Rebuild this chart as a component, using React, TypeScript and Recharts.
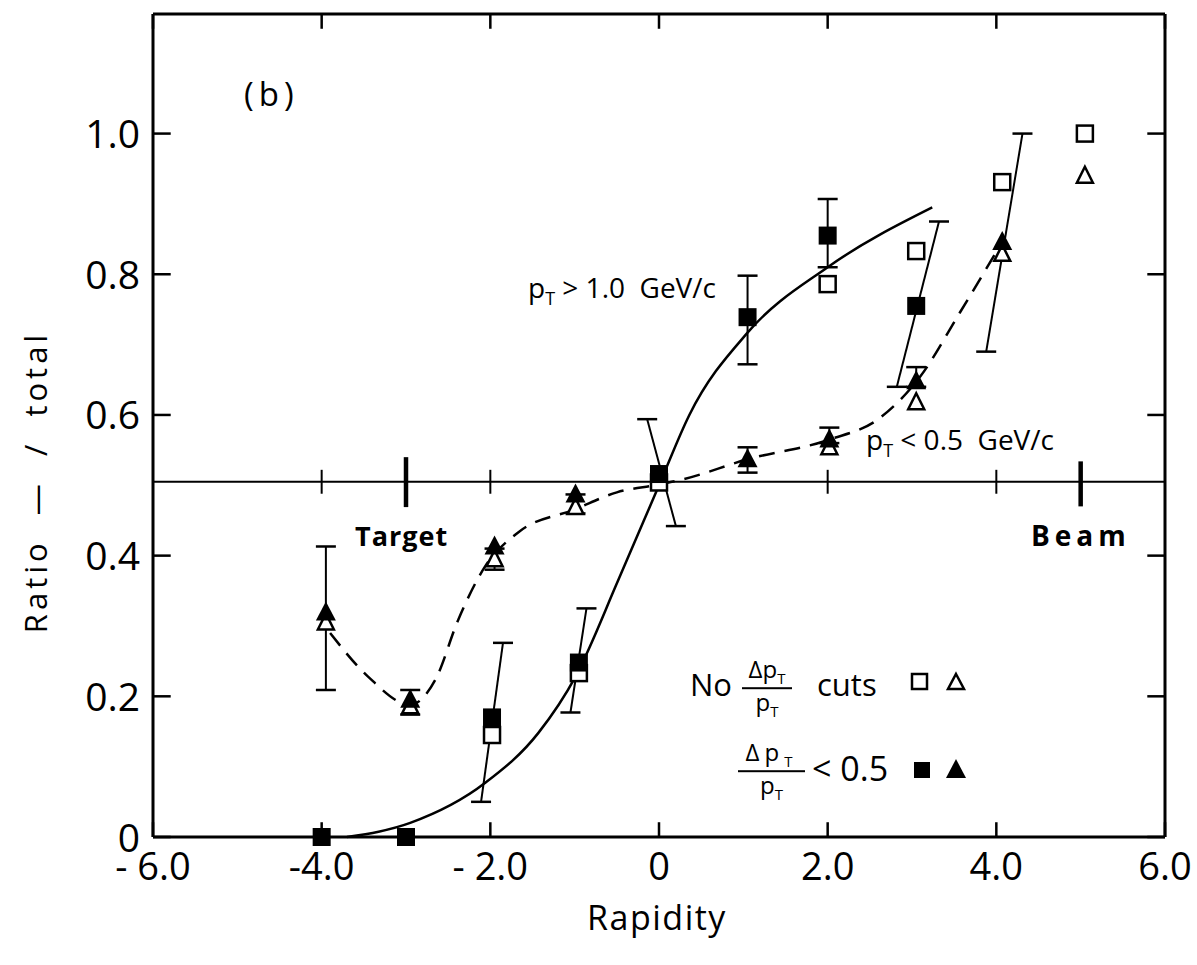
import React from 'react';
import { ComposedChart, Line, Scatter, XAxis, YAxis, ReferenceLine } from 'recharts';

// axis ticks and labels
const xDomain = [-6, 6];
const yDomain = [0, 1.17];
const xTicks = [-6, -4, -2, 0, 2, 4, 6];
const xTickLabels = ['- 6.0', '-4.0', '- 2.0', '0', '2.0', '4.0', '6.0'];
const yTicks = [0, 0.2, 0.4, 0.6, 0.8, 1.0];
const yTickLabels = ['0', '0.2', '0.4', '0.6', '0.8', '1.0'];

// reference level at ratio 0.5 with its small ticks and the target / beam marks
const midLevel = 0.505;
const midTicks = [-4, -2, 2, 4];
const targetMark = { x: -3, lo: 0.469, hi: 0.54 };
const beamMark = { x: 5, lo: 0.47, hi: 0.534 };

// no dp/p cuts (open symbols)
const openSquares = [
  { x: -1.98, y: 0.145 }, { x: -0.95, y: 0.233 }, { x: 0.0, y: 0.504 }, { x: 2.0, y: 0.786 },
  { x: 3.05, y: 0.833 }, { x: 4.07, y: 0.931 }, { x: 5.05, y: 1.0 },
];
const openTriangles = [
  { x: -3.95, y: 0.305 }, { x: -2.95, y: 0.186 }, { x: -1.95, y: 0.395 }, { x: -0.99, y: 0.469 },
  { x: 2.02, y: 0.554 }, { x: 3.05, y: 0.618 }, { x: 4.07, y: 0.829 }, { x: 5.05, y: 0.94 },
];

// dp/p < 0.5 (filled symbols)
const filledSquares = [
  { x: -4.0, y: 0.0 }, { x: -3.0, y: 0.0 }, { x: -1.98, y: 0.17 }, { x: -0.95, y: 0.248 },
  { x: 0.0, y: 0.516 }, { x: 1.05, y: 0.739 }, { x: 2.0, y: 0.855 }, { x: 3.05, y: 0.755 },
];
const filledTriangles = [
  { x: -3.95, y: 0.319 }, { x: -2.95, y: 0.195 }, { x: -1.95, y: 0.413 }, { x: -0.99, y: 0.487 },
  { x: 1.05, y: 0.537 }, { x: 2.02, y: 0.565 }, { x: 3.05, y: 0.648 }, { x: 4.07, y: 0.846 },
];

// error bars: low end -> high end (some are drawn slanted)
const errorBars = [
  { x1: -3.95, y1: 0.209, x2: -3.95, y2: 0.413 },
  { x1: -2.95, y1: 0.174, x2: -2.95, y2: 0.209 },
  { x1: -1.95, y1: 0.38, x2: -1.95, y2: 0.41 },
  { x1: -0.99, y1: 0.46, x2: -0.99, y2: 0.487 },
  { x1: 1.05, y1: 0.518, x2: 1.05, y2: 0.554 },
  { x1: 2.02, y1: 0.56, x2: 2.02, y2: 0.582 },
  { x1: 3.05, y1: 0.64, x2: 3.05, y2: 0.668 },
  { x1: -2.11, y1: 0.05, x2: -1.85, y2: 0.276 },
  { x1: -1.05, y1: 0.177, x2: -0.86, y2: 0.325 },
  { x1: 0.2, y1: 0.442, x2: -0.14, y2: 0.594 },
  { x1: 1.05, y1: 0.672, x2: 1.05, y2: 0.798 },
  { x1: 2.0, y1: 0.81, x2: 2.0, y2: 0.907 },
  { x1: 2.82, y1: 0.64, x2: 3.32, y2: 0.875 },
  { x1: 3.88, y1: 0.69, x2: 4.31, y2: 1.0 },
];

// hand-drawn curves
const solidCurve = [
  { x: -3.7, y: 0.0 }, { x: -2.95, y: 0.02 }, { x: -2.06, y: 0.077 }, { x: -1.43, y: 0.148 },
  { x: -0.99, y: 0.228 }, { x: -0.48, y: 0.366 }, { x: 0.0, y: 0.5 }, { x: 0.36, y: 0.6 },
  { x: 1.05, y: 0.717 }, { x: 2.0, y: 0.81 }, { x: 3.24, y: 0.895 },
];
const dashedCurve = [
  { x: -3.9, y: 0.29 }, { x: -3.45, y: 0.228 }, { x: -2.95, y: 0.188 }, { x: -2.65, y: 0.224 },
  { x: -2.38, y: 0.309 }, { x: -2.06, y: 0.385 }, { x: -1.67, y: 0.433 }, { x: -0.99, y: 0.466 },
  { x: -0.5, y: 0.49 }, { x: 0.0, y: 0.501 }, { x: 0.27, y: 0.508 }, { x: 1.05, y: 0.537 },
  { x: 2.02, y: 0.565 }, { x: 2.6, y: 0.594 }, { x: 3.1, y: 0.655 }, { x: 3.57, y: 0.746 },
  { x: 4.07, y: 0.846 },
];

const FONT = '"Open Sans", "DejaVu Sans", sans-serif';
// inward tick lengths in data units (about 18px across, 15px up/down)
const TICK_DX = 0.21;
const TICK_DY = 0.021;

const OpenSquare = (p: any) => (
  <rect x={p.cx - 8} y={p.cy - 8} width={16} height={16} fill="#fff" stroke="#000" strokeWidth={2.5} />
);
const FilledSquare = (p: any) => (
  <rect x={p.cx - 9} y={p.cy - 9} width={18} height={18} fill="#000" />
);
const OpenTriangle = (p: any) => (
  <path d={`M${p.cx},${p.cy - 9} L${p.cx + 8},${p.cy + 7} L${p.cx - 8},${p.cy + 7} Z`} fill="#fff" stroke="#000" strokeWidth={2.5} />
);
const FilledTriangle = (p: any) => (
  <path d={`M${p.cx},${p.cy - 11} L${p.cx + 10},${p.cy + 8} L${p.cx - 10},${p.cy + 8} Z`} fill="#000" />
);
const Cap = (p: any) => (
  <line x1={p.cx - 10} x2={p.cx + 10} y1={p.cy} y2={p.cy} stroke="#000" strokeWidth={2.5} />
);

const LeftTick = (p: any) => (
  <text x={p.x} y={p.y - 1} textAnchor="end" dominantBaseline="central" fontSize={39} fontFamily={FONT} fill="#000">
    {yTickLabels[yTicks.indexOf(p.payload.value)]}
  </text>
);
const BottomTick = (p: any) => (
  <text x={p.x} y={p.y + 28} textAnchor="middle" dominantBaseline="central" fontSize={38} fontFamily={FONT} fill="#000">
    {xTickLabels[xTicks.indexOf(p.payload.value)]}
  </text>
);

const pos = (left: number, top: number, size: number, extra: any = {}) => ({
  position: 'absolute' as const, left, top, fontSize: size, fontFamily: FONT, color: '#000',
  whiteSpace: 'nowrap' as const, lineHeight: 1, transform: 'translateY(-50%)', ...extra,
});

const Frac = ({ left, top, width, gap }: { left: number; top: number; width: number; gap: number }) => (
  <div style={{ ...pos(left, top, 24), width, display: 'flex', flexDirection: 'column', alignItems: 'center' }}>
    <span style={{ letterSpacing: gap }}>Δp<sub style={{ fontSize: 15 }}>T</sub></span>
    <span style={{ width: '100%', borderTop: '2px solid #000', margin: '1px 0 1px' }} />
    <span>p<sub style={{ fontSize: 15 }}>T</sub></span>
  </div>
);

const Sym = ({ kind, left, top }: { kind: string; left: number; top: number }) => (
  <svg width={22} height={22} style={{ position: 'absolute', left, top: top - 11 }}>
    {kind === 'os' && <rect x={3} y={3} width={15} height={15} fill="#fff" stroke="#000" strokeWidth={2.5} />}
    {kind === 'ot' && <path d="M11,3 L19,18 L3,18 Z" fill="#fff" stroke="#000" strokeWidth={2.5} />}
    {kind === 'fs' && <rect x={2} y={3} width={16} height={16} fill="#000" />}
    {kind === 'ft' && <path d="M11,1 L21,20 L1,20 Z" fill="#000" />}
  </svg>
);

const seg = (x1: number, y1: number, x2: number, y2: number) => [{ x: x1, y: y1 }, { x: x2, y: y2 }];

export default function App() {
  return (
    <div style={{ position: 'absolute', left: 0, top: 0, width: 1197, height: 965, background: '#fff' }}>
      <ComposedChart width={1197} height={965} margin={{ top: 14, right: 32, bottom: 78, left: 0 }}>
        <XAxis
          type="number" dataKey="x" domain={xDomain} ticks={xTicks} height={50}
          tick={BottomTick} tickLine={false} tickSize={0} tickMargin={0}
          axisLine={{ stroke: '#000', strokeWidth: 3 }}
        />
        <YAxis
          type="number" dataKey="y" domain={yDomain} ticks={yTicks} width={153}
          tick={LeftTick} tickLine={false} tickSize={0} tickMargin={13}
          axisLine={{ stroke: '#000', strokeWidth: 3 }}
        />

        {/* top and right frame */}
        <ReferenceLine y={yDomain[1]} stroke="#000" strokeWidth={3} />
        <ReferenceLine x={xDomain[1]} stroke="#000" strokeWidth={3} />

        {/* inward ticks on all four sides */}
        {xTicks.map((t) => (
          <ReferenceLine key={`b${t}`} segment={seg(t, yDomain[0], t, yDomain[0] + TICK_DY)} stroke="#000" strokeWidth={2.5} />
        ))}
        {xTicks.map((t) => (
          <ReferenceLine key={`t${t}`} segment={seg(t, yDomain[1], t, yDomain[1] - TICK_DY)} stroke="#000" strokeWidth={2.5} />
        ))}
        {yTicks.map((t) => (
          <ReferenceLine key={`l${t}`} segment={seg(xDomain[0], t, xDomain[0] + TICK_DX, t)} stroke="#000" strokeWidth={2.5} />
        ))}
        {yTicks.map((t) => (
          <ReferenceLine key={`r${t}`} segment={seg(xDomain[1], t, xDomain[1] - TICK_DX, t)} stroke="#000" strokeWidth={2.5} />
        ))}

        <ReferenceLine y={midLevel} stroke="#000" strokeWidth={2} />
        {midTicks.map((t) => (
          <ReferenceLine key={`m${t}`} segment={seg(t, midLevel - 0.017, t, midLevel + 0.017)} stroke="#000" strokeWidth={2} />
        ))}
        <ReferenceLine segment={seg(targetMark.x, targetMark.lo, targetMark.x, targetMark.hi)} stroke="#000" strokeWidth={4.5} />
        <ReferenceLine segment={seg(beamMark.x, beamMark.lo, beamMark.x, beamMark.hi)} stroke="#000" strokeWidth={4.5} />

        <Line data={solidCurve} dataKey="y" type="monotone" stroke="#000" strokeWidth={2.5} dot={false} activeDot={false} isAnimationActive={false} />
        <Line data={dashedCurve} dataKey="y" type="monotone" stroke="#000" strokeWidth={2.5} strokeDasharray="16 10" dot={false} activeDot={false} isAnimationActive={false} />

        {errorBars.map((e, i) => (
          <Scatter
            key={`eb-${i}`}
            data={seg(e.x1, e.y1, e.x2, e.y2)}
            dataKey="y" line={{ stroke: '#000', strokeWidth: 2 }} shape={Cap} isAnimationActive={false}
          />
        ))}

        <Scatter data={openSquares} dataKey="y" shape={OpenSquare} isAnimationActive={false} />
        <Scatter data={openTriangles} dataKey="y" shape={OpenTriangle} isAnimationActive={false} />
        <Scatter data={filledSquares} dataKey="y" shape={FilledSquare} isAnimationActive={false} />
        <Scatter data={filledTriangles} dataKey="y" shape={FilledTriangle} isAnimationActive={false} />
      </ComposedChart>

      {/* annotations */}
      <div style={pos(244, 93, 33, { letterSpacing: 5 })}>(b)</div>
      <div style={pos(528, 290, 28)}>p<sub style={{ fontSize: 18 }}>T</sub> &gt; 1.0&nbsp; GeV/c</div>
      <div style={pos(866, 442, 28)}>p<sub style={{ fontSize: 18 }}>T</sub> &lt; 0.5&nbsp; GeV/c</div>
      <div style={pos(355, 535, 27, { fontWeight: 700, letterSpacing: 1 })}>Target</div>
      <div style={pos(1031, 535, 28, { fontWeight: 700, letterSpacing: 5 })}>Beam</div>

      {/* legend */}
      <div style={pos(690, 684, 31)}>No</div>
      <Frac left={742} top={688} width={50} gap={0} />
      <div style={pos(817, 684, 31)}>cuts</div>
      <Sym kind="os" left={909} top={682} />
      <Sym kind="ot" left={945} top={682} />
      <Frac left={738} top={771} width={67} gap={5} />
      <div style={pos(812, 768, 34)}>&lt; 0.5</div>
      <Sym kind="fs" left={912} top={770} />
      <Sym kind="ft" left={945} top={769} />

      <div style={pos(35, 482, 31, { transform: 'translate(-50%, -50%) rotate(-90deg)', letterSpacing: 4 })}>Ratio&nbsp;&nbsp;—&nbsp;&nbsp;/&nbsp;&nbsp;total</div>
      <div style={pos(657, 917, 34, { transform: 'translate(-50%, -50%)', letterSpacing: 1.5 })}>Rapidity</div>
    </div>
  );
}
